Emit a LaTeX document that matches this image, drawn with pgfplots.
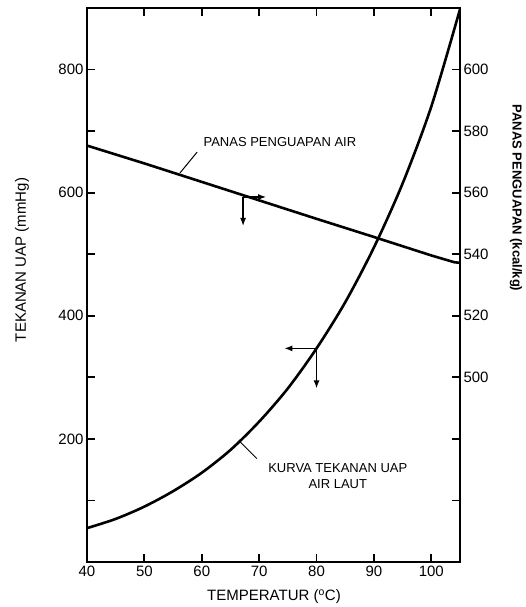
\documentclass[border=0pt]{standalone}
\usepackage{fontspec}
\setmainfont{Liberation Sans}
\usepackage{pgfplots}
\pgfplotsset{compat=1.18}
\usetikzlibrary{arrows.meta}

\pgfplotsset{
  base/.style={
    scale only axis, width=373pt, height=554pt,
    at={(87pt,45pt)}, anchor=south west,
    xmin=40, xmax=105,
    tick align=inside, major tick length=8pt,
    axis line style={line width=2pt},
    every tick/.style={line width=1.8pt, black},
    tick label style={font=\fontsize{15}{15}\selectfont},
    /pgf/number format/assume math mode=true,
  },
}

\begin{document}
\begin{tikzpicture}[x=1pt,y=1pt]
\path[use as bounding box] (0,0) rectangle (526,607);

% left axis: vapour pressure
\begin{axis}[base,
  ymin=0, ymax=900,
  xtick={40,50,...,100}, xtick pos=both, xticklabel pos=lower,
  ytick={100,200,...,800}, yticklabels={,200,,400,,600,,800},
  ytick pos=left,
]
\addplot[black, line width=2.6pt, smooth] coordinates {
  (40,55) (45,70) (50,90) (55,115) (60,145) (65,182) (70,228)
  (75,282) (80,347) (85,422) (90,511) (95,615) (100,740) (105,898)};

% annotations
\node[anchor=west, font=\fontsize{13}{13}\selectfont] at (axis cs:59.7,682) {PANAS PENGUAPAN AIR};
\draw[line width=1pt] (axis cs:56.2,632) -- (axis cs:59.2,666);
\node[align=center, font=\fontsize{13}{16}\selectfont] at (axis cs:83.7,139) {KURVA TEKANAN UAP\\AIR LAUT};
\draw[line width=1pt] (axis cs:66.7,195) -- (axis cs:69.6,168);

\draw[line width=1.2pt, -{Latex[length=8pt,width=6pt]}] (axis cs:67.2,593) -- (axis cs:71.2,593);
\draw[line width=1.2pt, -{Latex[length=8pt,width=6pt]}] (axis cs:67.2,593) -- (axis cs:67.2,546);
\draw[line width=1.2pt, -{Latex[length=8pt,width=6pt]}] (axis cs:80,347) -- (axis cs:74.4,347);
\draw[line width=1.2pt, -{Latex[length=8pt,width=6pt]}] (axis cs:80,347) -- (axis cs:80,282);
\end{axis}

% right axis: latent heat
\begin{axis}[base,
  ymin=440, ymax=620,
  axis x line=none, axis y line*=right,
  ytick={460,480,...,600}, yticklabels={,,500,520,540,560,580,600},
]
\addplot[black, line width=2.6pt] coordinates {
  (40,575.3) (50,569.5) (60,563.5) (70,557.5) (80,551.5)
  (90,545.6) (100,539.6) (104,537.4) (105,537.2)};
\end{axis}

% axis titles
\node[font=\fontsize{15}{15}\selectfont] at (274,10) {TEMPERATUR (\textsuperscript{o}C)};
\node[rotate=90, font=\fontsize{15}{15}\selectfont] at (22,347) {TEKANAN UAP (mmHg)};
\node[rotate=-90, font=\bfseries\fontsize{13}{13}\selectfont] at (516,409) {PANAS PENGUAPAN (kcal/kg)};
\end{tikzpicture}
\end{document}
